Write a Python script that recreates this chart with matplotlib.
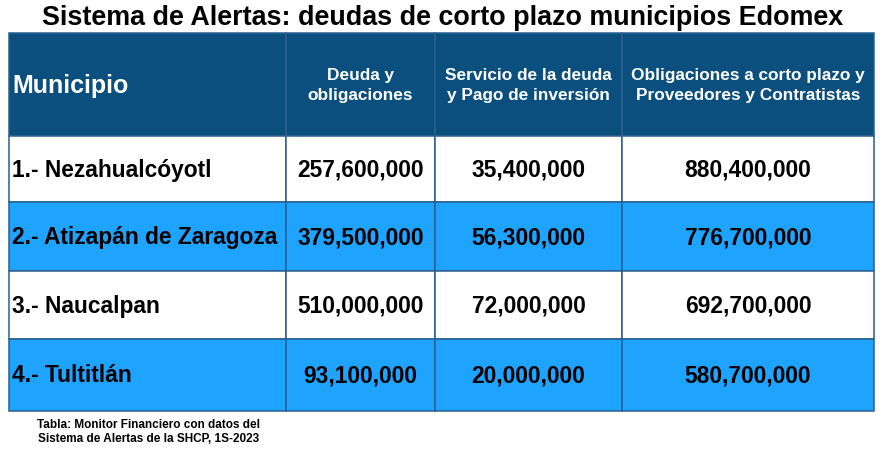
import matplotlib.pyplot as plt
from matplotlib.patches import Rectangle

plt.rcParams['font.family'] = ['Liberation Sans', 'DejaVu Sans']

title = "Sistema de Alertas: deudas de corto plazo municipios Edomex"
headers = ["Municipio", "Deuda y\nobligaciones",
           "Servicio de la deuda\ny Pago de inversión",
           "Obligaciones a corto plazo y\nProveedores y Contratistas"]
municipios = ["1.- Nezahualcóyotl", "2.- Atizapán de Zaragoza",
              "3.- Naucalpan", "4.- Tultitlán"]
deuda = [257600000, 379500000, 510000000, 93100000]
servicio = [35400000, 56300000, 72000000, 20000000]
obligaciones = [880400000, 776700000, 692700000, 580700000]
caption = "Tabla: Monitor Financiero con datos del\nSistema de Alertas de la SHCP, 1S-2023"

# layout in pixels
col_edges = [9, 286, 435, 622, 874]
row_edges = [33, 136, 202, 271, 339, 411]
header_color = "#0B4F7E"
alt_color = "#1EA4FF"
line_color = "#2B5F8E"

fig = plt.figure(figsize=(8.87, 4.59), dpi=100)
ax = fig.add_axes([0, 0, 1, 1])
ax.set_xlim(0, 887)
ax.set_ylim(459, 0)
ax.axis('off')

ax.text(443, 18, title, ha='center', va='center', fontsize=19.4, fontweight='bold')

rows = []
for i in range(len(municipios)):
    rows.append([municipios[i], f"{deuda[i]:,}", f"{servicio[i]:,}", f"{obligaciones[i]:,}"])

all_rows = [headers] + rows
for r, row in enumerate(all_rows):
    y0, y1 = row_edges[r], row_edges[r + 1]
    if r == 0:
        fc = header_color
    elif r % 2 == 0:
        fc = alt_color
    else:
        fc = "white"
    for c, val in enumerate(row):
        x0, x1 = col_edges[c], col_edges[c + 1]
        ax.add_patch(Rectangle((x0, y0), x1 - x0, y1 - y0, facecolor=fc,
                               edgecolor=line_color, linewidth=1.1))
        ym = (y0 + y1) / 2 + 1
        if r == 0:
            if c == 0:
                ax.text(x0 + 3, ym, val, ha='left', va='center', color='white',
                        fontsize=18, fontweight='bold')
            else:
                ax.text((x0 + x1) / 2, ym, val, ha='center', va='center', color='white',
                        fontsize=12.4, fontweight='bold', linespacing=1.45,
                        multialignment='center')
        else:
            if c == 0:
                ax.text(x0 + 3, ym, val, ha='left', va='center', color='black',
                        fontsize=16.4, fontweight='bold')
            else:
                ax.text((x0 + x1) / 2, ym, val, ha='center', va='center', color='black',
                        fontsize=16.4, fontweight='bold')

ax.text(149, 432, caption, ha='center', va='center', fontsize=8.5,
        fontweight='bold', linespacing=1.2, multialignment='center')

fig.savefig("out.png", dpi=100)
